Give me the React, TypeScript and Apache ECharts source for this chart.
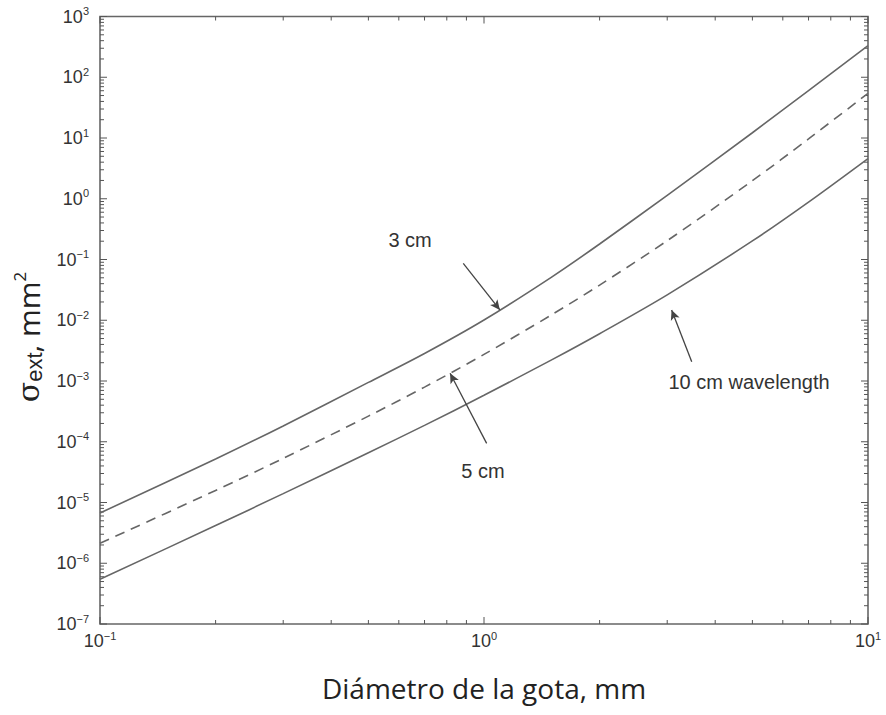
import React, { useEffect, useRef } from "react";
import * as echarts from "echarts";

// Drop diameter (mm)
const diameters = [0.1, 0.2, 0.3, 0.5, 0.7, 1, 1.5, 2, 3, 5, 7, 10];
// Extinction cross-section (mm^2) for each wavelength
const sigma3cm = [6.71e-6, 5.2e-5, 1.82e-4, 9.48e-4, 2.84e-3, 1.01e-2, 5.14e-2, 0.18, 1.14, 12.2, 60.4, 331];
const sigma5cm = [2.13e-6, 1.58e-5, 5.33e-5, 2.64e-4, 7.93e-4, 2.74e-3, 1.23e-2, 3.79e-2, 0.204, 1.98, 9.66, 54.3];
const sigma10cm = [5.44e-7, 4.17e-6, 1.4e-5, 6.59e-5, 1.86e-4, 5.82e-4, 2.23e-3, 6.01e-3, 2.62e-2, 0.202, 0.881, 4.59];

const xMin = 0.1;
const xMax = 10;
const yMin = 1e-7;
const yMax = 1e3;

const xDecades = [0.1, 1, 10];
const yDecades = [1e-7, 1e-6, 1e-5, 1e-4, 1e-3, 1e-2, 1e-1, 1, 10, 100, 1000];
const minorMultipliers = [2, 3, 4, 5, 6, 7, 8, 9];

// Annotations: text position, arrow start, arrow tip (data coordinates)
const annotations: { text: string; at: number[]; from: number[]; to: number[] }[] = [
  { text: "3 cm", at: [0.642, 0.209], from: [0.883, 0.0865], to: [1.1, 0.0148] },
  { text: "5 cm", at: [0.994, 3.3e-5], from: [1.016, 9.4e-5], to: [0.816, 1.34e-3] },
  { text: "10 cm wavelength", at: [4.9, 9.6e-4], from: [3.475, 2.08e-3], to: [3.08, 0.0148] },
];

function buildTicks() {
  const ticks: number[][] = [];
  xDecades.forEach((d) => {
    ticks.push([d, yMin, 0, 1]);
    if (d < xMax) minorMultipliers.forEach((m) => ticks.push([d * m, yMin, 0, 0]));
  });
  yDecades.forEach((d) => {
    ticks.push([xMin, d, 1, 1]);
    if (d < yMax) minorMultipliers.forEach((m) => ticks.push([xMin, d * m, 1, 0]));
  });
  return ticks;
}

function expLabel(v: number) {
  const e = Math.round(Math.log10(v));
  const s = e < 0 ? "\u2212" + -e : String(e);
  return `{b|10}{e|${s}}`;
}

const tickColor = "#555";
const labelRich = {
  b: { fontFamily: "Liberation Sans", fontSize: 18, lineHeight: 22, color: "#333" },
  e: { fontFamily: "Liberation Sans", fontSize: 11, lineHeight: 12, verticalAlign: "top", color: "#333" },
};

export default function App() {
  const ref = useRef<HTMLDivElement>(null);
  useEffect(() => {
    if (!ref.current) return;
    const chart = echarts.init(ref.current, undefined, { renderer: "svg" });
    const lineColor = "#666";
    const option: any = {
      animation: false,
      backgroundColor: "#fff",
      grid: {
        left: 100,
        right: 18,
        top: 16.5,
        bottom: 91,
        show: true,
        borderColor: "#666",
        borderWidth: 1.6,
        outerBoundsMode: "none",
      },
      xAxis: {
        type: "log",
        logBase: 10,
        min: xMin,
        max: xMax,
        interval: 1,
        axisLine: { show: false },
        axisTick: { show: false },
        splitLine: { show: false },
        minorTick: { show: false },
        axisLabel: {
          interval: 0,
          margin: 6,
          color: "#333",
          formatter: expLabel,
          rich: labelRich,
        },
        name: "Diámetro de la gota, mm",
        nameLocation: "middle",
        nameGap: 50,
        nameTextStyle: { fontFamily: "Open Sans", fontSize: 28, color: "#222" },
      },
      yAxis: {
        type: "log",
        logBase: 10,
        min: yMin,
        max: yMax,
        interval: 1,
        axisLine: { show: false },
        axisTick: { show: false },
        splitLine: { show: false },
        minorTick: { show: false },
        axisLabel: {
          interval: 0,
          margin: 11,
          color: "#333",
          formatter: expLabel,
          rich: labelRich,
        },
      },
      graphic: [
        {
          type: "text",
          x: 28,
          y: 337,
          rotation: Math.PI / 2,
          style: {
            text: "{s|σ}{sub|ext}{n|, mm}{sup|2}",
            align: "center",
            verticalAlign: "middle",
            rich: {
              s: { fontFamily: "DejaVu Serif", fontSize: 30, lineHeight: 34, fill: "#222", verticalAlign: "middle" },
              sub: { fontFamily: "Liberation Sans", fontSize: 22, lineHeight: 16, fill: "#222", verticalAlign: "bottom" },
              n: { fontFamily: "Open Sans", fontSize: 30, lineHeight: 34, fill: "#222", verticalAlign: "middle" },
              sup: { fontFamily: "Open Sans", fontSize: 17, lineHeight: 16, fill: "#222", verticalAlign: "top" },
            },
          },
        },
      ],
      series: [
        {
          name: "3 cm",
          type: "line",
          data: diameters.map((d, i) => [d, sigma3cm[i]]),
          showSymbol: false,
          smooth: 0.3,
          lineStyle: { color: lineColor, width: 1.6 },
          markLine: {
            silent: true,
            symbolSize: [7, 10],
            label: { show: false },
            lineStyle: { color: "#444", width: 1.3, type: "solid" },
            data: annotations.map((a) => [
              { coord: a.from, symbol: "none" },
              { coord: a.to, symbol: "arrow" },
            ]),
          },
          markPoint: {
            silent: true,
            symbol: "circle",
            symbolSize: 1,
            itemStyle: { color: "rgba(0,0,0,0)" },
            label: {
              show: true,
              position: "inside",
              fontFamily: "Liberation Sans",
              fontSize: 20,
              color: "#333",
            },
            data: annotations.map((a) => ({ coord: a.at, value: a.text, label: { formatter: a.text } })),
          },
        },
        {
          name: "5 cm",
          type: "line",
          data: diameters.map((d, i) => [d, sigma5cm[i]]),
          showSymbol: false,
          smooth: 0.3,
          lineStyle: { color: lineColor, width: 1.6, type: [10, 7] },
        },
        {
          name: "10 cm",
          type: "line",
          data: diameters.map((d, i) => [d, sigma10cm[i]]),
          showSymbol: false,
          smooth: 0.3,
          lineStyle: { color: lineColor, width: 1.6 },
        },
        {
          name: "ticks",
          type: "custom",
          silent: true,
          clip: false,
          data: buildTicks(),
          encode: { x: 0, y: 1 },
          renderItem: (params: any, api: any) => {
            const v0 = api.value(0);
            const v1 = api.value(1);
            const kind = api.value(2);
            const major = api.value(3);
            const len = major ? 7 : 4;
            const st = { stroke: tickColor, lineWidth: 1 };
            if (kind === 0) {
              const b = api.coord([v0, yMin]);
              const t = api.coord([v0, yMax]);
              return {
                type: "group",
                children: [
                  { type: "line", shape: { x1: b[0], y1: b[1], x2: b[0], y2: b[1] - len }, style: st },
                  { type: "line", shape: { x1: t[0], y1: t[1], x2: t[0], y2: t[1] + len }, style: st },
                ],
              };
            }
            const l = api.coord([xMin, v1]);
            const r = api.coord([xMax, v1]);
            return {
              type: "group",
              children: [
                { type: "line", shape: { x1: l[0], y1: l[1], x2: l[0] + len, y2: l[1] }, style: st },
                { type: "line", shape: { x1: r[0], y1: r[1], x2: r[0] - len, y2: r[1] }, style: st },
              ],
            };
          },
        },
      ],
    };
    chart.setOption(option);
    return () => chart.dispose();
  }, []);
  return (
    <div
      ref={ref}
      style={{ position: "fixed", left: 0, top: 0, width: 886, height: 715, background: "#fff" }}
    />
  );
}
